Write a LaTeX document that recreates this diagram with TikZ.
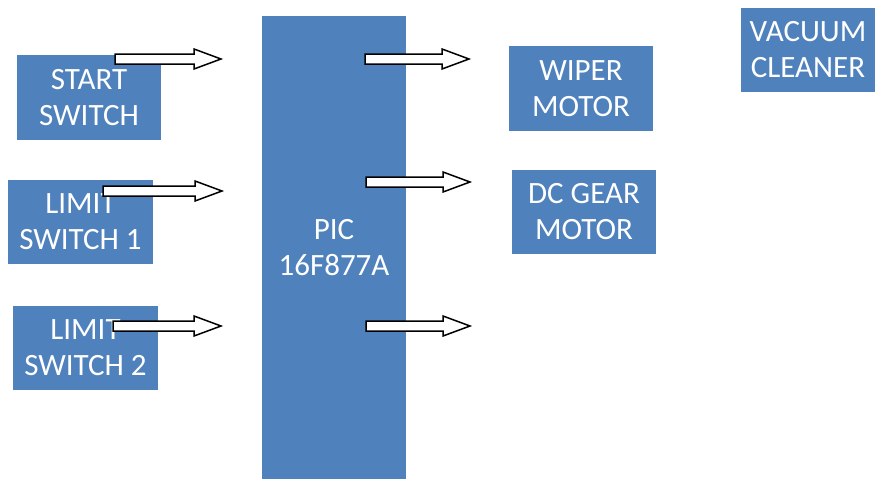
\documentclass[tikz,border=0pt]{standalone}
\usepackage{fontspec}
\setmainfont{Carlito}
\definecolor{boxblue}{HTML}{4F81BD}
\newcommand\blockarrow[4]{% name, left x, centre y, tip x
  \coordinate (#1-s) at (#2,#3);
  \coordinate (#1-t) at (#4,#3);
  \draw[arrowline] ($(#1-s)+(0,5)$) -- ($(#1-t)+(-27,5)$) -- ($(#1-t)+(-27,10)$) -- (#1-t)
    -- ($(#1-t)+(-27,-10)$) -- ($(#1-t)+(-27,-5)$) -- ($(#1-s)+(0,-5)$) -- cycle;}
\usetikzlibrary{calc}
\begin{document}
\begin{tikzpicture}[x=1pt,y=-1pt,
  blk/.style={fill=boxblue,draw=none,text=white,align=center,inner sep=0pt,
    font=\fontsize{31}{36}\selectfont},
  arrowline/.style={draw=black,fill=white,line width=1.5pt,line join=miter}]
\useasboundingbox (0,0) rectangle (878,479);
\node[blk,minimum width=144pt,minimum height=85pt] (start) at (89,97.5) {START\\SWITCH};
\node[blk,minimum width=145pt,minimum height=84pt] (lim1) at (80.5,222) {LIMIT\\SWITCH 1};
\node[blk,minimum width=145pt,minimum height=84pt] (lim2) at (85.5,348) {LIMIT\\SWITCH 2};
\node[blk,minimum width=144pt,minimum height=463pt] (pic) at (334,247.5) {PIC\\16F877A};
\node[blk,minimum width=144pt,minimum height=85pt] (wiper) at (581,88.5) {WIPER\\MOTOR};
\node[blk,minimum width=144pt,minimum height=84pt] (dc) at (584,212) {DC GEAR\\MOTOR};
\node[blk,minimum width=134pt,minimum height=84pt] (vac) at (808,50) {VACUUM\\CLEANER};
\blockarrow{a1}{115}{59}{221}
\blockarrow{a2}{103}{191}{222}
\blockarrow{a3}{113}{326}{221}
\blockarrow{o1}{365}{59}{469}
\blockarrow{o2}{366}{182}{470}
\blockarrow{o3}{366}{326}{470}
\end{tikzpicture}
\end{document}
